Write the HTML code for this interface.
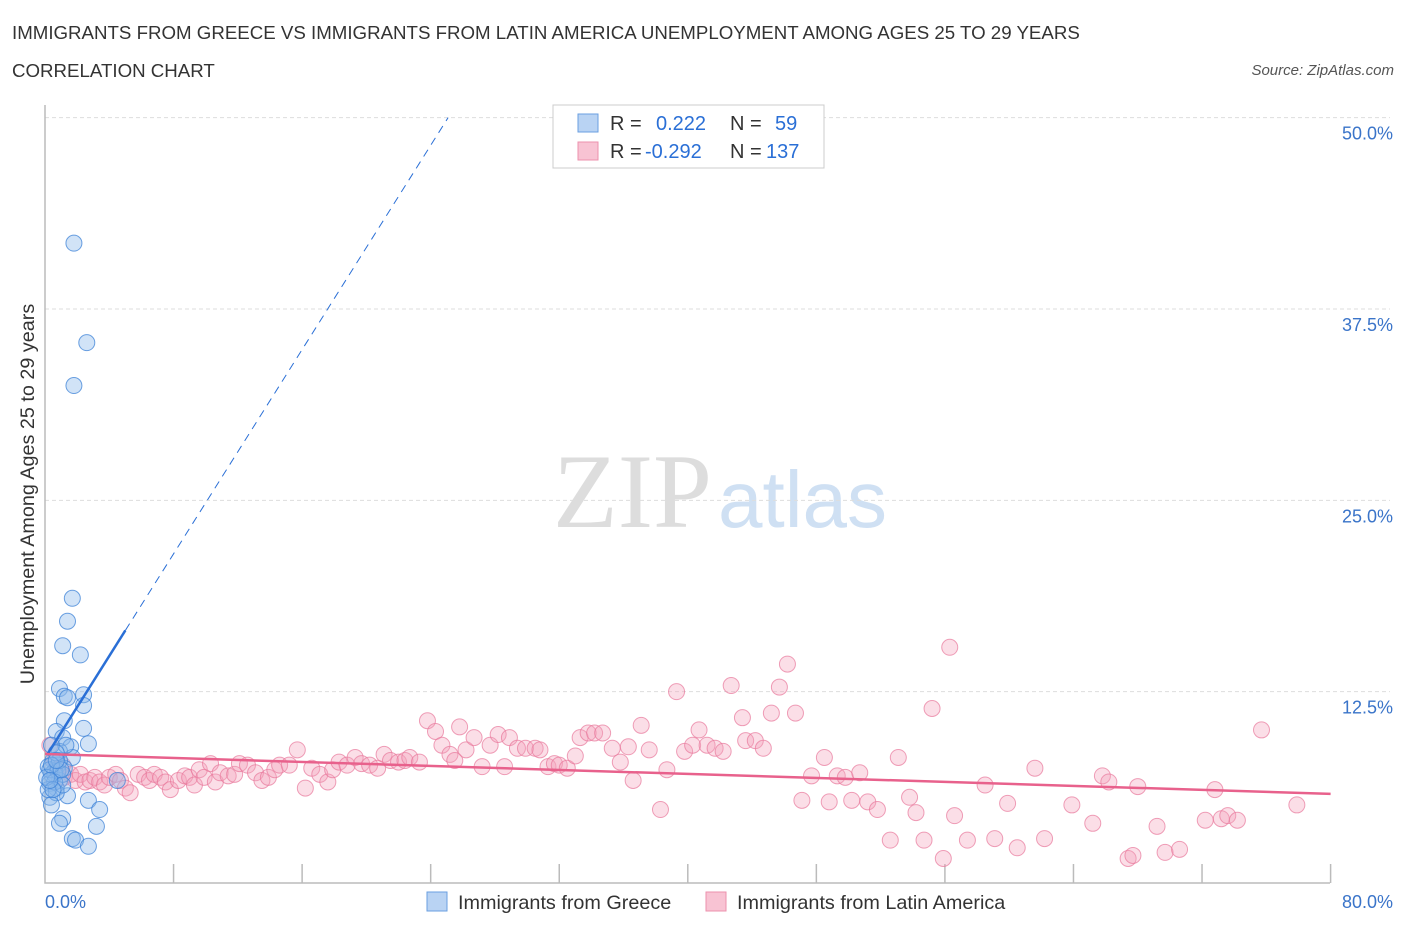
<!DOCTYPE html>
<html><head><meta charset="utf-8"><style>
body{margin:0;background:#fff;font-family:"Liberation Sans",sans-serif;}
#wrap{position:relative;width:1406px;height:930px;overflow:hidden}
.t{position:absolute;white-space:nowrap}
</style></head><body>
<div id="wrap">
<div class="t" style="left:12px;top:22px;font-size:18.7px;color:#333">IMMIGRANTS FROM GREECE VS IMMIGRANTS FROM LATIN AMERICA UNEMPLOYMENT AMONG AGES 25 TO 29 YEARS</div>
<div class="t" style="left:12px;top:60px;font-size:18.7px;color:#333">CORRELATION CHART</div>
<div class="t" style="right:12px;top:62px;font-size:15px;color:#555;font-style:italic">Source: ZipAtlas.com</div>
<svg id="svg" width="1406" height="930" style="position:absolute;left:0;top:0"></svg>
</div>
<script>
const yTicks=[12.5,25,37.5,50];
const yTickLabels=["12.5%","25.0%","37.5%","50.0%"];
const greeceX=[1.8,2.6,1.8,1.7,1.4,1.1,2.2,0.9,2.4,1.2,1.4,2.4,2.4,1.2,0.7,1.1,2.7,1.6,0.9,1.7,0.5,0.8,0.2,1.2,0.6,0.4,0.9,0.3,0.7,1.4,0.3,0.7,0.4,2.7,1.1,0.9,3.2,3.4,1.7,1.9,2.7,0.6,0.3,0.8,1.1,0.9,0.6,0.2,1.1,4.5,1.3,0.4,0.7,0.1,0.5,0.4,1.0,0.7,0.3];
const greeceY=[41.8,35.3,32.5,18.6,17.1,15.5,14.9,12.7,12.3,12.2,12.1,11.6,10.1,10.6,9.9,9.5,9.1,8.9,8.6,8.2,8.0,7.7,7.6,7.5,7.3,7.1,6.7,6.5,6.2,5.7,5.6,5.9,5.1,5.4,4.2,3.9,3.7,4.8,2.9,2.8,2.4,7.1,7.4,7.3,7.1,8.0,6.6,6.1,6.4,6.7,9.0,9.0,8.5,6.9,6.1,7.7,7.4,8.0,6.7];
const latamX=[0.3,0.6,0.8,1.1,1.2,1.6,1.9,2.2,2.5,2.8,3.1,3.4,3.7,4.0,4.4,4.7,5.0,5.3,5.8,6.2,6.5,6.8,7.2,7.5,7.8,8.3,8.7,9.0,9.3,9.6,9.9,10.3,10.6,10.9,11.4,11.8,12.1,12.6,13.1,13.5,13.9,14.3,14.6,15.2,15.7,16.2,16.6,17.1,17.6,17.9,18.3,18.8,19.3,19.7,20.2,20.7,21.1,21.5,22.0,22.4,22.7,23.3,23.8,24.3,24.7,25.2,25.5,25.8,26.2,26.7,27.2,27.7,28.2,28.6,28.9,29.4,29.9,30.5,30.8,31.3,31.7,32.0,32.5,33.0,33.3,33.8,34.2,34.7,35.3,35.8,36.3,36.6,37.1,37.6,38.3,38.7,39.3,39.8,40.3,40.7,41.2,41.7,42.2,42.7,43.4,43.6,44.2,44.7,45.2,45.7,46.2,46.7,47.1,47.7,48.5,48.8,49.3,49.8,50.2,50.7,51.2,51.8,52.6,53.1,53.8,54.2,54.7,55.2,55.9,56.3,56.6,57.4,58.5,59.1,59.9,60.5,61.6,62.2,63.9,65.2,65.8,66.2,67.4,67.7,68.0,69.2,69.7,70.6,72.2,72.8,73.2,73.6,74.2,75.7,77.9];
const latamY=[9.0,8.0,7.4,7.7,6.9,7.1,6.7,7.1,6.6,6.7,6.9,6.6,6.4,6.9,7.1,6.7,6.2,5.9,7.1,6.9,6.7,7.1,6.9,6.6,6.1,6.7,7.0,6.9,6.4,7.4,6.9,7.8,6.6,7.2,7.0,7.1,7.8,7.7,7.2,6.7,6.9,7.4,7.7,7.7,8.7,6.2,7.5,7.1,6.6,7.4,7.9,7.7,8.2,7.8,7.7,7.5,8.4,8.0,7.9,8.0,8.2,7.9,10.6,9.9,9.0,8.4,8.0,10.2,8.7,9.5,7.6,9.0,9.7,7.6,9.5,8.8,8.8,8.8,8.7,7.6,7.8,7.7,7.5,8.3,9.5,9.8,9.8,9.8,8.8,7.9,8.9,6.7,10.3,8.7,4.8,7.4,12.5,8.6,9.0,10.0,9.0,8.8,8.6,12.9,10.8,9.3,9.3,8.8,11.1,12.8,14.3,11.1,5.4,7.0,8.2,5.3,7.0,6.9,5.4,7.2,5.3,4.8,2.8,8.2,5.6,4.6,2.8,11.4,1.6,15.4,4.4,2.8,6.4,2.9,5.2,2.3,7.5,2.9,5.1,3.9,7.0,6.6,1.6,1.8,6.3,3.7,2.0,2.2,4.1,6.1,4.2,4.4,4.1,10.0,5.1];
const greeceTrend=[8.16,1.668]; // intercept, slope
const latamTrend=[8.43,-0.0326];
const NS="http://www.w3.org/2000/svg";
const svg=document.getElementById('svg');
const X=v=>45+v*16.07, Y=v=>883-v*15.307;
function mk(t,a,p){const e=document.createElementNS(NS,t);for(const k in a)e.setAttribute(k,a[k]);(p||svg).appendChild(e);return e;}
let w=mk('text',{x:553,y:527,'font-size':106,'font-family':'Liberation Serif',fill:'#ddd'});w.textContent='ZIP';


let w2=mk('text',{x:718,y:527,'font-size':80,'font-family':'Liberation Sans',fill:'#cfe0f3'});w2.textContent='atlas';


yTicks.forEach((v,i)=>{
 const g=mk('line',{x1:45,x2:1390,y1:Y(v),y2:Y(v),stroke:'#ddd','stroke-dasharray':'4,3'});
 
 
 const t=mk('text',{x:1393,y:Y(v)+22,'text-anchor':'end','font-size':18,fill:'#3a74c9'});t.textContent=yTickLabels[i];
 
 
});
const ax=mk('path',{d:'M45 105 V883 H1330',stroke:'#bbb',fill:'none','stroke-width':1.5});


for(let i=1;i<=10;i++){const tk=mk('line',{x1:X(i*8),x2:X(i*8),y1:864,y2:883,stroke:'#bbb','stroke-width':1.5});
 
 }
const xl=mk('text',{x:45,y:908,'font-size':18,fill:'#3a74c9'});xl.textContent='0.0%';


const xr=mk('text',{x:1393,y:908,'text-anchor':'end','font-size':18,fill:'#3a74c9'});xr.textContent='80.0%';


const yt=mk('text',{x:34,y:494,'font-size':19.8,fill:'#333','text-anchor':'middle',transform:'rotate(-90 34 494)'});yt.textContent='Unemployment Among Ages 25 to 29 years';


latamX.forEach((x,i)=>{const c=mk('circle',{cx:X(x),cy:Y(latamY[i]),r:8,fill:'rgba(244,160,185,0.35)',stroke:'rgba(232,120,155,0.7)','stroke-width':1});
 
 });
greeceX.forEach((x,i)=>{const c=mk('circle',{cx:X(x),cy:Y(greeceY[i]),r:8,fill:'rgba(140,185,235,0.4)',stroke:'rgba(60,130,215,0.75)','stroke-width':1});
 
 });
const gx1=0.12,gx2=5.0,gx3=(50-greeceTrend[0])/greeceTrend[1];
const gl=mk('line',{x1:X(gx1),y1:Y(greeceTrend[0]+greeceTrend[1]*gx1),x2:X(gx2),y2:Y(greeceTrend[0]+greeceTrend[1]*gx2),stroke:'#2a6fd6','stroke-width':2.5});


const gd=mk('line',{x1:X(gx2),y1:Y(greeceTrend[0]+greeceTrend[1]*gx2),x2:X(gx3),y2:Y(50),stroke:'#2a6fd6','stroke-width':1,'stroke-dasharray':'8,6'});


const pl=mk('line',{x1:X(0),y1:Y(latamTrend[0]),x2:X(80),y2:Y(latamTrend[0]+latamTrend[1]*80),stroke:'#e8618c','stroke-width':2.5});


const lg=mk('rect',{x:553,y:105,width:271,height:63,fill:'#fff',stroke:'#ccc'});


[[0,'#b9d3f3','#6a9fe0','0.222','59'],[1,'#f8c3d3','#ec91ae','-0.292','137']].forEach(r=>{
 const y=123+r[0]*28;
 const s=mk('rect',{x:578,y:y-9,width:20,height:18,fill:r[1],stroke:r[2]});
 
 
 const t=mk('text',{x:610,y:y+7,'font-size':20,fill:'#333'});
 t.innerHTML='R = <tspan fill="#2a6fd6" x="'+(r[0]?645:656)+'">'+r[3]+'</tspan><tspan x="730">N = </tspan><tspan fill="#2a6fd6" x="'+(r[0]?766:775)+'">'+r[4]+'</tspan>';
 
 
});
[[427,'#b9d3f3','#6a9fe0','Immigrants from Greece'],[706,'#f8c3d3','#ec91ae','Immigrants from Latin America']].forEach(r=>{
 const s=mk('rect',{x:r[0],y:892,width:20,height:19,fill:r[1],stroke:r[2]});
 
 
 const t=mk('text',{x:r[0]+31,y:909,'font-size':19.8,fill:'#333'});t.textContent=r[3];
 
 
});
</script>
</body></html>
